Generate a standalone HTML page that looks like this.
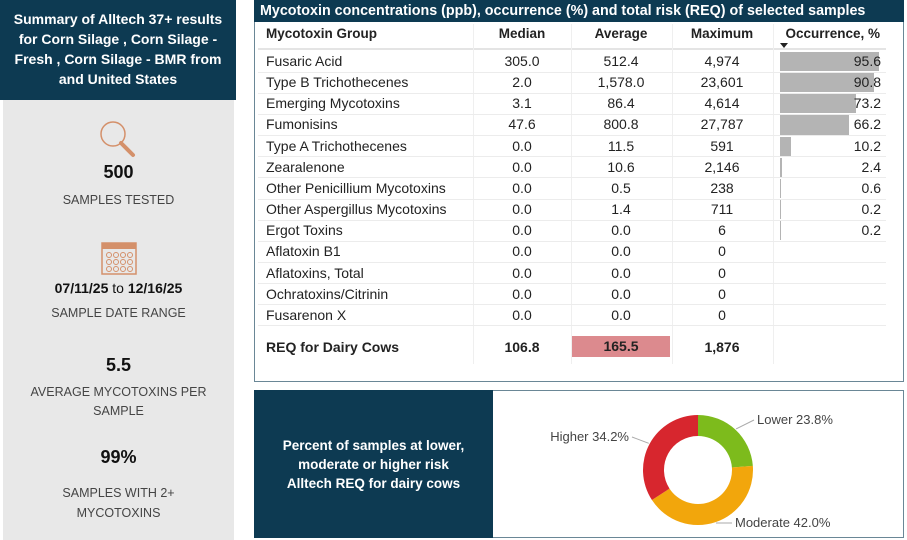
<!DOCTYPE html>
<html><head><meta charset="utf-8"><style>
*{margin:0;padding:0;box-sizing:border-box}
body{width:907px;height:540px;background:#fff;font-family:"Liberation Sans",sans-serif;position:relative;overflow:hidden;color:#222}
.abs{position:absolute}
.c{text-align:center}
.lp{color:#444;font-size:12.5px;left:3px;width:231px;text-align:center;position:absolute}
.big{font-weight:bold;font-size:18px;color:#111;left:3px;width:231px;text-align:center;position:absolute}
</style></head><body>
<div class="abs" style="left:0;top:0;width:236px;height:100px;background:#0d3a52;color:#fff;font-weight:bold;font-size:14px;line-height:20px;text-align:center;padding-top:9px;white-space:nowrap">Summary of Alltech 37+ results<br>for Corn Silage , Corn Silage -<br>Fresh , Corn Silage - BMR from<br>and United States</div>
<div class="abs" style="left:3px;top:100px;width:231px;height:440px;background:#e8e8e8"></div>
<svg class="abs" style="left:95px;top:118px" width="46" height="42"><circle cx="18" cy="16" r="12" fill="none" stroke="#d4906a" stroke-width="1.5"/><line x1="26" y1="25" x2="38" y2="37" stroke="#d4906a" stroke-width="4" stroke-linecap="round"/></svg>
<div class="big" style="top:162px">500</div>
<div class="lp" style="top:193px">SAMPLES TESTED</div>
<svg class="abs" style="left:101px;top:240px" width="36" height="36"><rect x="1" y="3" width="34" height="31" fill="none" stroke="#d4906a" stroke-width="1.5"/><rect x="1" y="3" width="34" height="6" fill="#d4906a"/><g fill="none" stroke="#d4906a" stroke-width="1"><circle cx="8" cy="15" r="2.5"/><circle cx="15" cy="15" r="2.5"/><circle cx="22" cy="15" r="2.5"/><circle cx="29" cy="15" r="2.5"/><circle cx="8" cy="22" r="2.5"/><circle cx="15" cy="22" r="2.5"/><circle cx="22" cy="22" r="2.5"/><circle cx="29" cy="22" r="2.5"/><circle cx="8" cy="29" r="2.5"/><circle cx="15" cy="29" r="2.5"/><circle cx="22" cy="29" r="2.5"/><circle cx="29" cy="29" r="2.5"/></g></svg>
<div class="abs" style="left:3px;width:231px;top:280px;text-align:center;font-size:14px;font-weight:bold;color:#111">07/11/25 <span style="font-weight:normal">to</span> 12/16/25</div>
<div class="lp" style="top:306px">SAMPLE DATE RANGE</div>
<div class="big" style="top:355px">5.5</div>
<div class="lp" style="top:383px;line-height:19px">AVERAGE MYCOTOXINS PER<br>SAMPLE</div>
<div class="big" style="top:447px">99%</div>
<div class="lp" style="top:483px;line-height:20px">SAMPLES WITH 2+<br>MYCOTOXINS</div>

<div class="abs" style="left:254px;top:0;width:650px;height:382px;border:1.5px solid #6a8796;border-top:none"></div>
<div class="abs" style="left:254px;top:0;width:650px;height:22px;background:#0d3a52;color:#fff;font-weight:bold;font-size:14.3px;line-height:22px;padding-left:6px;white-space:nowrap">Mycotoxin concentrations (ppb), occurrence (%) and total risk (REQ) of selected samples</div>
<div id="tbl"></div>

<div class="abs" style="left:254px;top:390px;width:650px;height:148px;border:1.5px solid #6a8796"></div>
<div class="abs" style="left:254px;top:390px;width:239px;height:148px;background:#0d3a52;color:#fff;font-weight:bold;font-size:13.5px;line-height:19px;text-align:center;padding-top:46px">Percent of samples at lower,<br>moderate or higher risk<br>Alltech REQ for dairy cows</div>
<svg id="donut" class="abs" style="left:493px;top:390px" width="411" height="148"></svg>

<script>
const names=["Fusaric Acid","Type B Trichothecenes","Emerging Mycotoxins","Fumonisins","Type A Trichothecenes","Zearalenone","Other Penicillium Mycotoxins","Other Aspergillus Mycotoxins","Ergot Toxins","Aflatoxin B1","Aflatoxins, Total","Ochratoxins/Citrinin","Fusarenon X"];
const medians=["305.0","2.0","3.1","47.6","0.0","0.0","0.0","0.0","0.0","0.0","0.0","0.0","0.0"];
const averages=["512.4","1,578.0","86.4","800.8","11.5","10.6","0.5","1.4","0.0","0.0","0.0","0.0","0.0"];
const maximums=["4,974","23,601","4,614","27,787","591","2,146","238","711","6","0","0","0","0"];
const occurrence=[95.6,90.8,73.2,66.2,10.2,2.4,0.6,0.2,0.2,null,null,null,null];
const req=["106.8","165.5","1,876"];
const riskLabels=["Lower","Moderate","Higher"];
const riskValues=[23.8,42.0,34.2];
const riskColors=["#7dbb1c","#f2a60c","#d7262e"];

const T=document.getElementById('tbl');
function cell(txt,x,y,w,align,extra,name){
  const d=document.createElement('div');
  d.className='abs';d.textContent=txt;
  
  
  d.style.cssText=`left:${x}px;top:${y}px;width:${w}px;height:20px;line-height:20px;font-size:14px;white-space:nowrap;text-align:${align};${extra||''}`;
  T.appendChild(d);return d;
}
const hy=24;
cell("Mycotoxin Group",266,hy,200,'left','font-weight:bold;font-size:13.5px','header-group');
cell("Median",474,hy,96,'center','font-weight:bold;font-size:13.5px','header-median');
cell("Average",572,hy,98,'center','font-weight:bold;font-size:13.5px','header-average');
cell("Maximum",672,hy,100,'center','font-weight:bold;font-size:13.5px','header-maximum');
cell("Occurrence, %",776,hy,104,'right','font-weight:bold;font-size:13.5px','header-occurrence');
const arrow=document.createElement('div');arrow.className='abs';


arrow.style.cssText='left:780px;top:43px;width:0;height:0;border-left:4px solid transparent;border-right:4px solid transparent;border-top:5px solid #222';
T.appendChild(arrow);
const hl=document.createElement('div');hl.className='abs';


hl.style.cssText='left:258px;top:48px;width:628px;height:2px;background:#e4e4e4';T.appendChild(hl);
[473,571,672,773].forEach(x=>{const v=document.createElement('div');v.className='abs';


v.style.cssText=`left:${x}px;top:24px;width:1px;height:340px;background:#efefef`;T.appendChild(v);});
const rowH=21.15, r0=51;
const barX=780, barScale=1.04;
names.forEach((n,i)=>{
  const y=r0+i*rowH;
  const ln=document.createElement('div');ln.className='abs';
  
  
  ln.style.cssText=`left:258px;top:${y+rowH-0.5}px;width:628px;height:1px;background:#ececec`;T.appendChild(ln);
  if(occurrence[i]!==null){
    const b=document.createElement('div');b.className='abs';
    
    
    b.style.cssText=`left:${barX}px;top:${y+1}px;width:${Math.max(1,occurrence[i]*barScale)}px;height:${rowH-2}px;background:#b4b4b4`;T.appendChild(b);
    cell(occurrence[i].toFixed(1),780,y,101,'right','','occurrence-value');
  }
  cell(n,266,y,210,'left','','mycotoxin-name');
  cell(medians[i],474,y,96,'center','','median-value');
  cell(averages[i],572,y,98,'center','','average-value');
  cell(maximums[i],672,y,100,'center','','maximum-value');
});
const ry=337;
cell("REQ for Dairy Cows",266,ry,210,'left','font-weight:bold','req-label');
cell(req[0],474,ry,96,'center','font-weight:bold','req-median');
const hb=cell(req[1],572,ry,98,'center','font-weight:bold;background:#dc8a8e','req-average');
hb.style.top=(ry-1)+'px';hb.style.height='21px';
cell(req[2],672,ry,100,'center','font-weight:bold','req-maximum');

// donut
const S=document.getElementById('donut'),NS='http://www.w3.org/2000/svg';
const cx=205,cy=80,R=55,r=34;
let a=0;const tot=riskValues.reduce((s,v)=>s+v,0);
function pt(rad,ang){return [cx+rad*Math.sin(ang),cy-rad*Math.cos(ang)];}
const labelPos=[[264,34,'start'],[242,137,'start'],[136,51,'end']];
riskValues.forEach((v,i)=>{
  const a1=a+v/tot*2*Math.PI;const lg=(a1-a)>Math.PI?1:0;
  const [x1,y1]=pt(R,a),[x2,y2]=pt(R,a1),[x3,y3]=pt(r,a1),[x4,y4]=pt(r,a);
  const p=document.createElementNS(NS,'path');
  p.setAttribute('d',`M${x1},${y1}A${R},${R} 0 ${lg} 1 ${x2},${y2}L${x3},${y3}A${r},${r} 0 ${lg} 0 ${x4},${y4}Z`);
  p.setAttribute('fill',riskColors[i]);
  
  
  S.appendChild(p);
  const mid=(a+a1)/2;const [mx,my]=pt(R+1,mid);
  const [lx,ly,anc]=labelPos[i];
  const ex=anc==='start'?lx-3:lx+3;
  const l=document.createElementNS(NS,'polyline');
  l.setAttribute('points',`${mx},${my} ${ex},${ly-4}`);
  l.setAttribute('stroke','#aaa');l.setAttribute('fill','none');
  
  
  S.appendChild(l);
  const t=document.createElementNS(NS,'text');
  t.setAttribute('x',lx);t.setAttribute('y',ly);t.setAttribute('text-anchor',anc);
  t.setAttribute('font-size','13');t.setAttribute('fill','#444');
  t.setAttribute('font-family','Liberation Sans, sans-serif');
  t.textContent=riskLabels[i]+' '+v.toFixed(1)+'%';
  
  
  S.appendChild(t);
  a=a1;
});
</script>
</body></html>
